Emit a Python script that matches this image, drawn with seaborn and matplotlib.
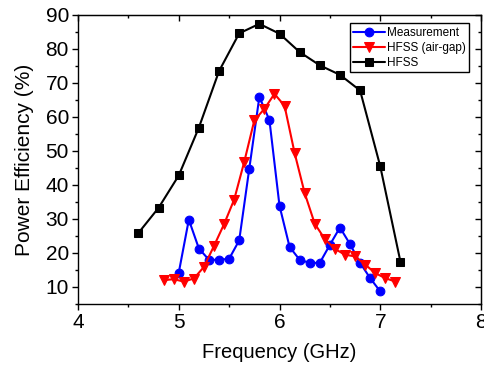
import matplotlib
matplotlib.use("Agg")
import matplotlib.pyplot as plt
import seaborn as sns
import pandas as pd
from matplotlib.ticker import MultipleLocator

# Data
meas_freq = [5.0, 5.1, 5.2, 5.3, 5.4, 5.5, 5.6, 5.7, 5.8, 5.9, 6.0, 6.1, 6.2,
             6.3, 6.4, 6.5, 6.6, 6.7, 6.8, 6.9, 7.0]
meas_eff = [14.2, 29.8, 21.3, 18.0, 18.0, 18.3, 23.7, 44.8, 65.9, 59.1, 33.9,
            21.8, 18.0, 17.1, 17.1, 22.4, 27.5, 22.6, 17.1, 12.6, 8.7]

airgap_freq = [4.85, 4.95, 5.05, 5.15, 5.25, 5.35, 5.45, 5.55, 5.65, 5.75, 5.85,
               5.95, 6.05, 6.15, 6.25, 6.35, 6.45, 6.55, 6.65, 6.75, 6.85, 6.95,
               7.05, 7.15]
airgap_eff = [12.0, 12.3, 11.6, 12.5, 15.9, 22.1, 28.5, 35.7, 46.8, 59.0, 62.4,
              66.8, 63.3, 49.4, 37.6, 28.6, 24.1, 21.2, 19.5, 19.0, 16.6, 14.1,
              12.6, 11.6]

hfss_freq = [4.6, 4.8, 5.0, 5.2, 5.4, 5.6, 5.8, 6.0, 6.2, 6.4, 6.6, 6.8, 7.0, 7.2]
hfss_eff = [25.9, 33.3, 42.8, 56.9, 73.5, 84.6, 87.4, 84.5, 79.1, 75.2, 72.4,
            67.8, 45.5, 17.5]

x_ticks = [4, 5, 6, 7, 8]
y_ticks = [10, 20, 30, 40, 50, 60, 70, 80, 90]
series_names = ["Measurement", "HFSS (air-gap)", "HFSS"]

sns.set_style("ticks")
plt.rcParams['font.family'] = ['Liberation Sans', 'DejaVu Sans']
plt.rcParams['text.color'] = 'black'
plt.rcParams['axes.labelcolor'] = 'black'
plt.rcParams['xtick.color'] = 'black'
plt.rcParams['ytick.color'] = 'black'

fig = plt.figure(figsize=(4.84, 3.66), dpi=100)
ax = fig.add_axes([78 / 484, 1 - 304 / 366, 403 / 484, 289 / 366])

df_m = pd.DataFrame({"f": meas_freq, "e": meas_eff})
df_a = pd.DataFrame({"f": airgap_freq, "e": airgap_eff})
df_h = pd.DataFrame({"f": hfss_freq, "e": hfss_eff})

sns.lineplot(data=df_m, x="f", y="e", ax=ax, color="#0000ff", marker="o",
             markersize=6.3, markeredgecolor="#0000ff", linewidth=1.5,
             label=series_names[0], zorder=3)
sns.lineplot(data=df_a, x="f", y="e", ax=ax, color="#ff0000", marker="v",
             markersize=7, markeredgecolor="#ff0000", linewidth=1.5,
             label=series_names[1], zorder=4)
sns.lineplot(data=df_h, x="f", y="e", ax=ax, color="black", marker="s",
             markersize=5.5, markeredgecolor="black", linewidth=1.5,
             label=series_names[2], zorder=5)

ax.set_xlim(4, 8)
ax.set_ylim(5, 90)
ax.set_xticks(x_ticks)
ax.set_yticks(y_ticks)
ax.xaxis.set_minor_locator(MultipleLocator(0.5))
ax.yaxis.set_minor_locator(MultipleLocator(5))

ax.tick_params(which="both", direction="out", labelsize=15, color="black",
               labelcolor="black", width=1.0, pad=2)
ax.tick_params(which="major", length=4.5)
ax.tick_params(which="minor", length=2.5)
for s in ax.spines.values():
    s.set_linewidth(1.0)
    s.set_color("black")

# mirrored ticks pointing inward on top and right
secx = ax.secondary_xaxis("top")
secx.set_xticks(x_ticks)
secx.xaxis.set_minor_locator(MultipleLocator(0.5))
secx.tick_params(which="both", direction="in", labeltop=False, width=1.0,
                 color="black")
secx.tick_params(which="major", length=4.5)
secx.tick_params(which="minor", length=2.5)
secy = ax.secondary_yaxis("right")
secy.set_yticks(y_ticks)
secy.yaxis.set_minor_locator(MultipleLocator(5))
secy.tick_params(which="both", direction="in", labelright=False, width=1.0,
                 color="black")
secy.tick_params(which="major", length=4.5)
secy.tick_params(which="minor", length=2.5)

ax.set_xlabel("Frequency (GHz)", fontsize=14.5, labelpad=8)
ax.set_ylabel("Power Efficiency (%)", fontsize=15, labelpad=8)

leg = ax.legend(loc="upper right", bbox_to_anchor=(0.971, 0.971),
                fontsize=8.5, frameon=True, fancybox=False,
                edgecolor="black", framealpha=1, borderpad=0.3,
                handlelength=2.7, handletextpad=0.15, labelspacing=0.25,
                borderaxespad=0)
leg.get_frame().set_linewidth(1.0)

fig.savefig("out.png", dpi=100)
